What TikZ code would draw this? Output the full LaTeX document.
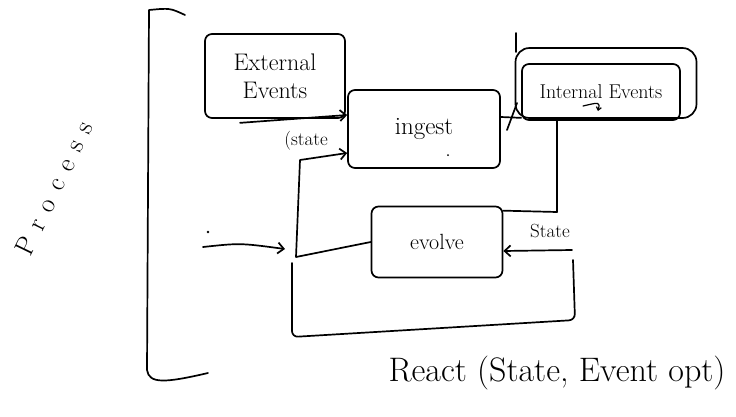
\documentclass[tikz,border=0pt]{standalone}
\usepackage{fontspec}
\setmainfont{Latin Modern Roman}
\usetikzlibrary{arrows.meta}
\begin{document}
\begin{tikzpicture}[x=1pt,y=-1pt,line width=1.7pt,line cap=round,line join=round,
  box/.style={draw,rounded corners=7pt,inner sep=0pt,font=\fontsize{22}{25}\selectfont},
  lab/.style={inner sep=0pt,font=\fontsize{19}{21}\selectfont},
  flow/.style={-{Straight Barb[length=6pt,width=11pt]}}]
\useasboundingbox (0,0) rectangle (736,416);
% process bracket
\coordinate (bt) at (185,15);
\coordinate (bb) at (208,373);
\draw (bt) .. controls (170,8) .. (149,10) -- (147,370) .. controls (149,384) and (165,383) .. (bb);
\node[inner sep=0pt,rotate=64,font=\fontsize{27}{30}\selectfont\addfontfeatures{LetterSpace=40}] (proc) at (54,188) {Process};
% boxes
\node[box,minimum width=140pt,minimum height=84pt,align=center,font=\fontsize{24}{28}\selectfont] (ext) at (275,76) {External\\Events};
\node[box,minimum width=152pt,minimum height=78pt,font=\fontsize{25}{28}\selectfont] (ingest) at (424,129) {ingest};
\node[box,minimum width=131pt,minimum height=71pt] (evolve) at (437,242) {evolve};
\node[box,minimum width=181pt,minimum height=70pt,rounded corners=14pt] (intout) at (606,83) {};
\node[box,minimum width=158pt,minimum height=56pt,font=\fontsize{20}{22}\selectfont] (internal) at (601,92) {Internal Events};
\coordinate (tk0) at (516,33);
\coordinate (tk1) at (516,52);
\draw (tk0) -- (tk1);
\coordinate (h0) at (583,106);
\coordinate (h1) at (598,111);
\draw[line width=1.2pt,-{Straight Barb[length=3pt,width=5pt]}] (h0) .. controls (600,102) .. (h1);
\fill (ingest.center) ++(24,26) circle (1pt);
% ext -> ingest
\draw[flow] ([xshift=-35pt,yshift=-4pt]ext.south) -- ([yshift=14pt]ingest.west);
% evolve state back to ingest
\coordinate (s1) at (296,257);
\coordinate (s2) at (300,160);
\draw[flow] (evolve.west) -- (s1) -- (s2) -- ([yshift=-24pt]ingest.west);
\node[lab] (lstate) at (306,141) {(state};
% ingest -> internal
\draw ([yshift=12pt]ingest.east) -- ([yshift=3pt]internal.south west);
\coordinate (sl0) at (507,130);
\coordinate (sl1) at (517,103);
\draw (sl0) -- (sl1);
% internal -> evolve
\coordinate (c1) at (557,212);
\draw (internal.south -| c1) -- (c1) -- ([yshift=-5pt]evolve.north east);
% state into evolve
\node[lab] (lstate2) at (550,231) {State};
\coordinate (st) at (572,250);
\draw[flow] (st) -- ([yshift=-9pt]evolve.east);
% bottom loop
\coordinate (b1) at (573,260);
\coordinate (b2) at (575,320);
\coordinate (b3) at (292,337);
\coordinate (b4) at (292,263);
\draw[rounded corners=6pt] (b1) -- (b2) -- (b3) -- (b4);
% input arrow
\coordinate (in0) at (203,247);
\coordinate (in1) at (285,249);
\fill (208,232) circle (1.4pt);
\draw[flow] (in0) .. controls (240,243) .. (in1);
% caption
\node[inner sep=0pt,font=\fontsize{34}{38}\selectfont] (react) at (557,373) {React (State, Event opt)};
\end{tikzpicture}
\end{document}
